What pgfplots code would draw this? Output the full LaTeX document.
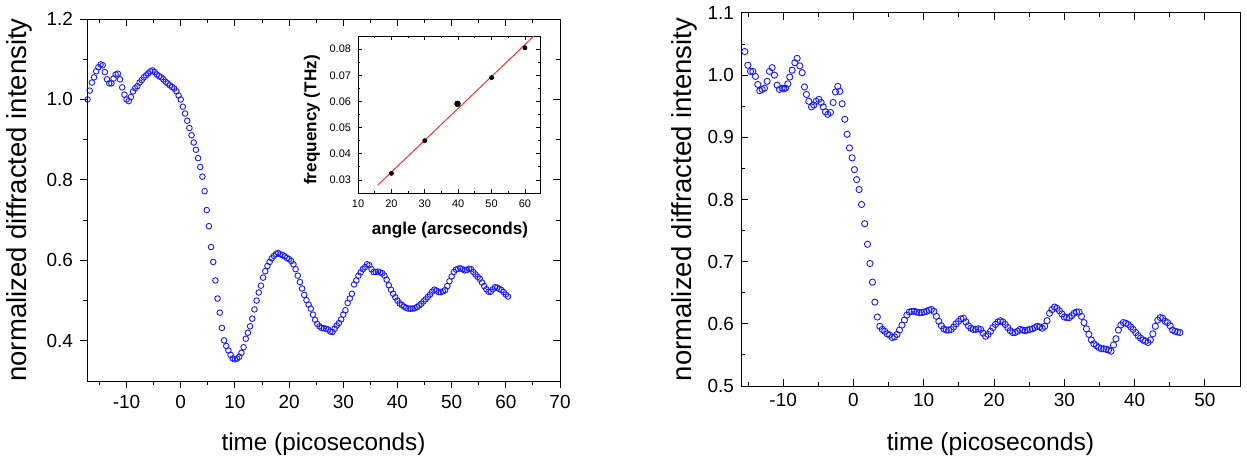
\documentclass[border=0pt]{standalone}
\usepackage{fontspec}
\setmainfont{Liberation Sans}
\usepackage{pgfplots}
\pgfplotsset{compat=1.18}
\definecolor{ptblue}{RGB}{25,25,255}
\definecolor{fitred}{RGB}{255,45,45}

\begin{document}
\begin{tikzpicture}
\path[use as bounding box] (0,0) rectangle (623.5bp,229.5bp);
\pgfplotsset{
  every axis/.append style={
    scale only axis,
    axis line style={line width=0.5bp},
    every tick/.style={black, line width=0.5bp},
    /pgf/number format/assume math mode=true,
  },
}
% ---------------- left main axis ----------------
\begin{axis}[
  at={(43.5bp,39bp)}, anchor=south west, width=236.5bp, height=181bp,
  xmin=-17.3, xmax=70, ymin=0.3, ymax=1.2,
  xtick={-10,0,10,20,30,40,50,60,70}, minor xtick={-15,-5,5,15,25,35,45,55,65},
  ytick={0.4,0.6,0.8,1.0,1.2}, minor ytick={0.5,0.7,0.9,1.1},
  tick align=outside, xtick pos=left, ytick pos=left,
  major tick length=3.5bp, minor tick length=2bp,
  yticklabel style={/pgf/number format/fixed, /pgf/number format/fixed zerofill, /pgf/number format/precision=1},
  tick label style={font=\fontsize{9.5}{11}\selectfont},
  xlabel={time (picoseconds)}, ylabel={normalized diffracted intensity},
  xlabel style={at={(axis description cs:0.5,-0.174)}, anchor=center, font=\fontsize{12.2}{14}\selectfont},
  ylabel style={at={(axis description cs:-0.143,0.5)}, anchor=center, font=\fontsize{13.8}{15}\selectfont},
]
\addplot[only marks, mark=o, mark size=1.4bp, ptblue, mark options={line width=0.45bp}] coordinates {
(-17.2,1.000) (-16.8,1.022) (-16.4,1.042) (-16.0,1.055) (-15.6,1.070) (-15.2,1.080) (-14.8,1.087) (-14.4,1.085)
(-14.0,1.068) (-13.6,1.050) (-13.2,1.040) (-12.8,1.040) (-12.4,1.052) (-12.0,1.062) (-11.6,1.064) (-11.2,1.050)
(-10.8,1.030) (-10.4,1.012) (-10.0,1.000) (-9.6,0.996) (-9.2,1.006) (-8.8,1.020) (-8.4,1.028) (-8.0,1.033)
(-7.6,1.042) (-7.2,1.048) (-6.8,1.055) (-6.4,1.060) (-6.0,1.065) (-5.6,1.070) (-5.2,1.072) (-4.8,1.068)
(-4.4,1.062) (-4.0,1.058) (-3.6,1.055) (-3.2,1.050) (-2.8,1.044) (-2.4,1.040) (-2.0,1.035) (-1.6,1.031)
(-1.2,1.027) (-0.8,1.020) (-0.4,1.010) (0.0,1.000) (0.4,0.982) (0.8,0.965) (1.2,0.947) (1.6,0.929)
(2.0,0.911) (2.4,0.893) (2.8,0.875) (3.2,0.854) (3.6,0.832) (4.0,0.808) (4.4,0.772) (4.8,0.725)
(5.2,0.685) (5.6,0.633) (6.0,0.596) (6.4,0.550) (6.8,0.505) (7.2,0.470) (7.6,0.432) (8.0,0.401)
(8.4,0.387) (8.8,0.376) (9.2,0.365) (9.6,0.356) (10.0,0.354) (10.4,0.356) (10.8,0.360) (11.2,0.370)
(11.6,0.384) (12.0,0.405) (12.4,0.420) (12.8,0.436) (13.2,0.455) (13.6,0.478) (14.0,0.500) (14.4,0.520)
(14.8,0.537) (15.2,0.557) (15.6,0.573) (16.0,0.586) (16.4,0.596) (16.8,0.605) (17.2,0.611) (17.6,0.616)
(18.0,0.618) (18.4,0.615) (18.8,0.613) (19.2,0.610) (19.6,0.606) (20.0,0.603) (20.4,0.598) (20.8,0.590)
(21.2,0.578) (21.6,0.562) (22.0,0.546) (22.4,0.530) (22.8,0.514) (23.2,0.501) (23.6,0.490) (24.0,0.480)
(24.4,0.465) (24.8,0.452) (25.2,0.442) (25.6,0.436) (26.0,0.432) (26.4,0.431) (26.8,0.430) (27.2,0.428)
(27.6,0.423) (28.0,0.422) (28.4,0.430) (28.8,0.438) (29.2,0.444) (29.6,0.453) (30.0,0.465) (30.4,0.476)
(30.8,0.494) (31.2,0.505) (31.6,0.517) (32.0,0.540) (32.4,0.550) (32.8,0.562) (33.2,0.570) (33.6,0.578)
(34.0,0.583) (34.4,0.590) (34.8,0.588) (35.2,0.578) (35.6,0.571) (36.0,0.571) (36.4,0.572) (36.8,0.570)
(37.2,0.568) (37.6,0.562) (38.0,0.552) (38.4,0.538) (38.8,0.527) (39.2,0.517) (39.6,0.508) (40.0,0.500)
(40.4,0.493) (40.8,0.489) (41.2,0.485) (41.6,0.482) (42.0,0.480) (42.4,0.480) (42.8,0.480) (43.2,0.481)
(43.6,0.484) (44.0,0.488) (44.4,0.492) (44.8,0.498) (45.2,0.503) (45.6,0.509) (46.0,0.515) (46.4,0.522)
(46.8,0.527) (47.2,0.525) (47.6,0.521) (48.0,0.521) (48.4,0.523) (48.8,0.526) (49.2,0.536) (49.6,0.548)
(50.0,0.560) (50.4,0.571) (50.8,0.577) (51.2,0.579) (51.6,0.580) (52.0,0.578) (52.4,0.575) (52.8,0.576)
(53.2,0.579) (53.6,0.578) (54.0,0.571) (54.4,0.565) (54.8,0.559) (55.2,0.554) (55.6,0.545) (56.0,0.536)
(56.4,0.528) (56.8,0.522) (57.2,0.522) (57.6,0.528) (58.0,0.533) (58.4,0.532) (58.8,0.529) (59.2,0.526)
(59.6,0.521) (60.0,0.515) (60.4,0.510)
};
\end{axis}
% mirrored ticks (top/right, inward) for left axis
\begin{axis}[
  at={(43.5bp,39bp)}, anchor=south west, width=236.5bp, height=181bp,
  xmin=-17.3, xmax=70, ymin=0.3, ymax=1.2,
  xtick={-10,0,10,20,30,40,50,60,70}, minor xtick={-15,-5,5,15,25,35,45,55,65},
  ytick={0.4,0.6,0.8,1.0,1.2}, minor ytick={0.5,0.7,0.9,1.1},
  tick align=inside, xtick pos=right, ytick pos=right,
  xticklabels={}, yticklabels={},
  major tick length=3.5bp, minor tick length=2bp,
]
\end{axis}
% ---------------- inset ----------------
\begin{axis}[
  at={(179bp,133bp)}, anchor=south west, width=91bp, height=78.5bp,
  axis background/.style={fill=white},
  xmin=10, xmax=64.5, ymin=0.025, ymax=0.085,
  xtick={10,20,30,40,50,60}, minor xtick={15,25,35,45,55},
  ytick={0.03,0.04,0.05,0.06,0.07,0.08}, minor ytick={0.035,0.045,0.055,0.065,0.075},
  scaled y ticks=false,
  tick align=inside, xtick pos=both, ytick pos=both,
  xticklabel pos=left, yticklabel pos=left,
  major tick length=2bp, minor tick length=1.2bp,
  axis line style={line width=0.4bp},
  every tick/.style={black, line width=0.4bp},
  yticklabel style={/pgf/number format/fixed, /pgf/number format/fixed zerofill, /pgf/number format/precision=2},
  tick label style={font=\fontsize{5.5}{6}\selectfont},
  xlabel={angle (arcseconds)}, ylabel={frequency (THz)},
  xlabel style={at={(axis description cs:0.505,-0.236)}, anchor=center, font=\bfseries\fontsize{8.6}{10}\selectfont},
  ylabel style={at={(axis description cs:-0.253,0.465)}, anchor=center, font=\bfseries\fontsize{8.6}{10}\selectfont},
]
\addplot[fitred, line width=0.5bp] coordinates {(16,0.0281) (64.5,0.0872)};
\addplot[only marks, mark=*, mark size=1.0bp, black] coordinates {
(20,0.0325) (30,0.045) (50,0.0691) (60,0.0805)
};
\addplot[only marks, mark=*, mark size=1.4bp, black] coordinates {(39.8,0.0591)};
\end{axis}
% ---------------- right axis ----------------
\begin{axis}[
  at={(370.5bp,36.5bp)}, anchor=south west, width=249.5bp, height=186.5bp,
  xmin=-16, xmax=55, ymin=0.5, ymax=1.1,
  xtick={-10,0,10,20,30,40,50}, minor xtick={-15,-5,5,15,25,35,45},
  ytick={0.5,0.6,0.7,0.8,0.9,1.0,1.1}, minor ytick={0.55,0.65,0.75,0.85,0.95,1.05},
  tick align=inside, xtick pos=both, ytick pos=left,
  xticklabel pos=left, yticklabel pos=left,
  major tick length=3.5bp, minor tick length=2bp,
  yticklabel style={/pgf/number format/fixed, /pgf/number format/fixed zerofill, /pgf/number format/precision=1},
  tick label style={font=\fontsize{9.5}{11}\selectfont},
  xlabel={time (picoseconds)}, ylabel={normalized diffracted intensity},
  xlabel style={at={(axis description cs:0.5,-0.155)}, anchor=center, font=\fontsize{12.4}{14}\selectfont},
  ylabel style={at={(axis description cs:-0.114,0.5)}, anchor=center, font=\fontsize{13.8}{15}\selectfont},
]
\addplot[only marks, mark=o, mark size=1.55bp, ptblue, mark options={line width=0.45bp}] coordinates {
(-15.46,1.038) (-15.03,1.016) (-14.65,1.006) (-14.32,1.006) (-13.94,0.998) (-13.61,0.985) (-13.33,0.975) (-12.99,0.977)
(-12.66,0.979) (-12.28,0.990) (-11.95,1.006) (-11.57,1.012) (-11.24,1.000) (-10.86,0.984) (-10.53,0.977) (-10.15,0.979)
(-9.90,0.978) (-9.67,0.979) (-9.34,0.986) (-9.06,0.997) (-8.72,1.008) (-8.34,1.020) (-8.01,1.027) (-7.63,1.015)
(-7.30,1.004) (-6.97,0.981) (-6.69,0.969) (-6.35,0.958) (-5.97,0.949) (-5.64,0.952) (-5.31,0.958) (-4.93,0.961)
(-4.60,0.956) (-4.31,0.949) (-3.98,0.941) (-3.65,0.937) (-3.27,0.940) (-2.89,0.956) (-2.56,0.973) (-2.23,0.982)
(-1.94,0.974) (-1.61,0.954) (-1.23,0.929) (-0.90,0.905) (-0.57,0.883) (-0.19,0.867) (0.14,0.848) (0.45,0.832)
(0.80,0.816) (1.15,0.792) (1.60,0.761) (2.00,0.728) (2.35,0.697) (2.70,0.667) (3.05,0.635) (3.40,0.611)
(3.75,0.596) (4.10,0.591) (4.45,0.588) (4.80,0.584) (5.15,0.582) (5.50,0.578) (5.85,0.579) (6.20,0.583)
(6.55,0.590) (6.90,0.598) (7.25,0.606) (7.60,0.614) (7.95,0.619) (8.30,0.620) (8.65,0.620) (9.00,0.619)
(9.35,0.618) (9.70,0.618) (10.05,0.619) (10.40,0.620) (10.75,0.622) (11.10,0.623) (11.45,0.620) (11.80,0.612)
(12.15,0.604) (12.50,0.597) (12.85,0.592) (13.20,0.590) (13.55,0.590) (13.90,0.591) (14.25,0.595) (14.60,0.600)
(14.95,0.604) (15.30,0.608) (15.65,0.609) (16.00,0.603) (16.35,0.597) (16.70,0.593) (17.05,0.591) (17.40,0.591)
(17.75,0.592) (18.10,0.591) (18.45,0.585) (18.80,0.580) (19.15,0.583) (19.50,0.588) (19.85,0.594) (20.20,0.599)
(20.55,0.603) (20.90,0.605) (21.25,0.603) (21.60,0.599) (21.95,0.594) (22.30,0.589) (22.65,0.586) (23.00,0.586)
(23.35,0.588) (23.70,0.591) (24.05,0.590) (24.40,0.589) (24.75,0.590) (25.10,0.591) (25.45,0.592) (25.80,0.594)
(26.15,0.596) (26.50,0.595) (26.85,0.593) (27.20,0.596) (27.55,0.605) (27.90,0.617) (28.25,0.623) (28.60,0.627)
(28.95,0.625) (29.30,0.621) (29.65,0.616) (30.00,0.611) (30.35,0.610) (30.70,0.610) (31.05,0.613) (31.40,0.617)
(31.75,0.619) (32.10,0.619) (32.45,0.612) (32.80,0.602) (33.15,0.592) (33.50,0.583) (33.85,0.574) (34.20,0.568)
(34.55,0.565) (34.90,0.562) (35.25,0.560) (35.60,0.560) (35.95,0.559) (36.30,0.558) (36.65,0.556) (37.00,0.566)
(37.35,0.576) (37.70,0.590) (38.05,0.598) (38.40,0.602) (38.75,0.601) (39.10,0.599) (39.45,0.595) (39.80,0.591)
(40.15,0.586) (40.50,0.581) (40.85,0.577) (41.20,0.574) (41.55,0.572) (41.90,0.570) (42.25,0.574) (42.60,0.584)
(42.95,0.596) (43.30,0.606) (43.65,0.610) (44.00,0.609) (44.35,0.604) (44.70,0.602) (45.05,0.597) (45.40,0.590)
(45.75,0.588) (46.10,0.587) (46.45,0.586)
};
\end{axis}
\end{tikzpicture}
\end{document}
